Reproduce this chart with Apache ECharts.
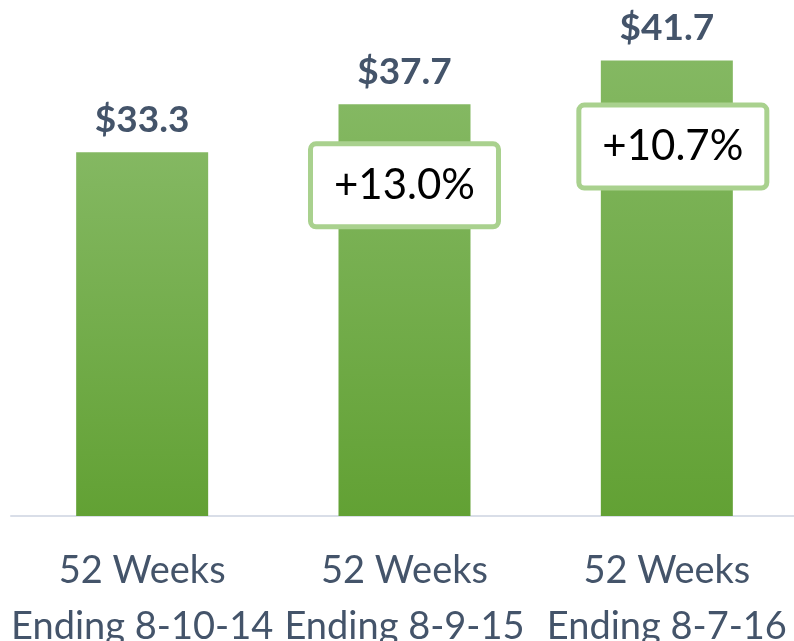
<!DOCTYPE html>
<html>
<head>
<meta charset="utf-8">
<script src="https://cdn.jsdelivr.net/npm/echarts@6/dist/echarts.min.js"></script>
<style>
  html, body { margin: 0; padding: 0; background: #fff; }
  #chart { width: 794px; height: 641px; }
</style>
</head>
<body>
<div id="chart"></div>
<script>
// 数据
var categories = ['52 Weeks\nEnding 8-10-14', '52 Weeks\nEnding 8-9-15', '52 Weeks\nEnding 8-7-16'];
var values = [33.3, 37.7, 41.7];
var growth = [null, '+13.0%', '+10.7%'];

var slate = '#44546A';
var font = 'Lato';

var myChart = echarts.init(document.getElementById('chart'));

var option = {
    animation: false,
    grid: {
        left: 11,
        width: 787,
        top: 0,
        bottom: 125,
        outerBoundsMode: 'none',
        containLabel: false
    },
    xAxis: {
        type: 'category',
        data: categories,
        axisTick: { show: false },
        axisLine: {
            lineStyle: { color: '#D9DEE8', width: 2 }
        },
        axisLabel: {
            color: slate,
            fontFamily: font,
            fontSize: 38,
            lineHeight: 56,
            margin: 27,
            interval: 0
        }
    },
    yAxis: {
        type: 'value',
        min: 0,
        max: 47.25,
        show: false,
        splitLine: { show: false }
    },
    series: [
        {
            type: 'bar',
            data: values,
            barWidth: 132,
            itemStyle: {
                color: new echarts.graphic.LinearGradient(0, 0, 0, 1, [
                    { offset: 0, color: '#84B862' },
                    { offset: 1, color: '#62A134' }
                ])
            },
            label: {
                show: true,
                position: 'top',
                distance: 14,
                color: slate,
                fontFamily: font,
                fontWeight: 'bold',
                fontSize: 37,
                formatter: function (p) {
                    return '$' + p.value.toFixed(1);
                }
            }
        },
        {
            // 增长率标注
            type: 'bar',
            data: values.map(function (v, i) {
                var item = { value: v };
                if (i === 0) {
                    item.label = { show: false };
                }
                if (i === 2) {
                    item.label = { offset: [6, 5] };
                }
                return item;
            }),
            barWidth: 132,
            barGap: '-100%',
            itemStyle: { color: 'transparent' },
            silent: true,
            label: {
                show: true,
                position: 'insideTop',
                distance: 81,
                color: '#000',
                fontFamily: font,
                fontSize: 42,
                width: 183,
                height: 78,
                lineHeight: 78,
                align: 'center',
                verticalAlign: 'middle',
                backgroundColor: '#fff',
                borderColor: '#A9D18E',
                borderWidth: 5,
                borderRadius: 3,
                formatter: function (p) {
                    return growth[p.dataIndex] || '';
                }
            }
        }
    ]
};

myChart.setOption(option);
</script>
</body>
</html>
